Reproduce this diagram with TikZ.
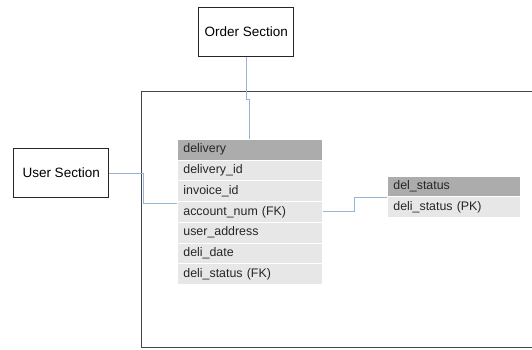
\documentclass[tikz,border=0pt]{standalone}
\usepackage{fontspec}
\setmainfont{Liberation Sans}
\usetikzlibrary{calc}
\definecolor{hdrgray}{RGB}{172,172,172}
\definecolor{rowgray}{RGB}{231,231,231}
\definecolor{linkblue}{RGB}{150,180,215}
\definecolor{framegray}{RGB}{70,70,70}
\tikzset{
  section/.style={draw=black!85, line width=1.3pt, fill=white,
    minimum width=95pt, minimum height=49pt, inner sep=0pt,
    font=\fontsize{13.5}{15}\selectfont, anchor=north west},
  cell/.style={draw=white, line width=0.8pt, anchor=north west,
    minimum height=20.7pt, inner xsep=6pt, inner ysep=0pt, align=left,
    font=\fontsize{12.4}{14}\selectfont, text=black!85},
  hdr/.style={cell, fill=hdrgray},
  row/.style={cell, fill=rowgray},
  conn/.style={draw=linkblue, line width=0.9pt},
}
\begin{document}
\begin{tikzpicture}[x=1pt, y=-1pt]
  \useasboundingbox (0,0) rectangle (532,349);
  % outer frame of the delivery module (open to the right)
  \draw[framegray, line width=1.4pt] (545,91.5) -- (141.5,91.5) -- (141.5,347.5) -- (545,347.5);

  % neighbouring sections
  \node[section] (os) at (198,7) {Order Section};
  \node[section] (us) at (13,148) {User Section};

  % delivery table
  \node[hdr, text width=133pt] (d0) at (177,139) {delivery};
  \node[row, text width=133pt] (d1) at (177,159.7) {delivery\_id};
  \node[row, text width=133pt] (d2) at (177,180.4) {invoice\_id};
  \node[row, text width=133pt] (d3) at (177,201.1) {account\_num (FK)};
  \node[row, text width=133pt] (d4) at (177,221.8) {user\_address};
  \node[row, text width=133pt] (d5) at (177,242.5) {deli\_date};
  \node[row, text width=133pt] (d6) at (177,263.2) {deli\_status (FK)};

  % del_status table
  \node[hdr, text width=121pt] (s0) at (387,175.5) {del\_status};
  \node[row, text width=121pt] (s1) at (387,196.2) {deli\_status (PK)};

  % connectors
  \draw[conn] (os.south) -- ++(0,42) -| (d0.north);
  \coordinate (uj) at (143,0);
  \coordinate (ue) at ([yshift=8pt]d3.west);
  \draw[conn] (us.east) -| (uj |- ue) -- (ue);
  \coordinate (sj) at (354,0);
  \draw[conn] (d3.east) -| (sj |- s0.south west) -- (s0.south west);
\end{tikzpicture}
\end{document}
